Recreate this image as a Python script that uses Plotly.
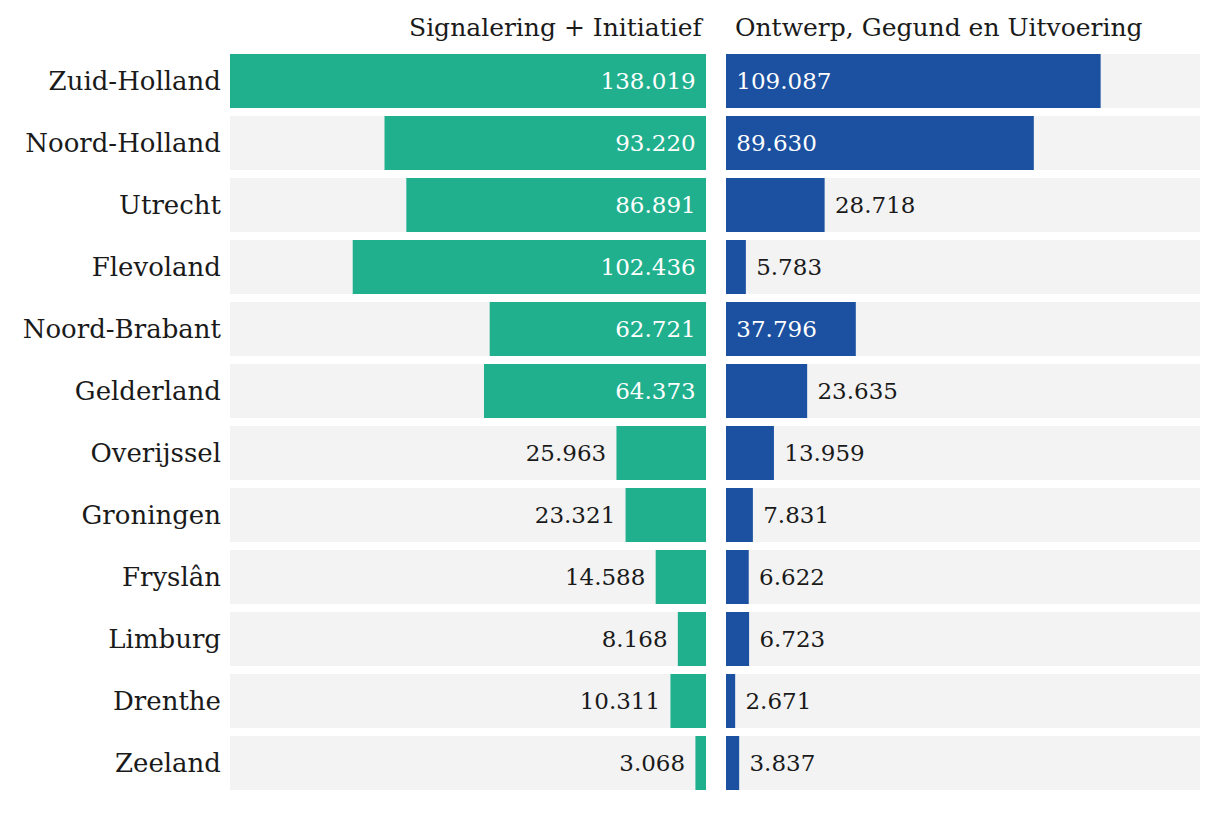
import plotly.graph_objects as go

provinces = ["Zuid-Holland", "Noord-Holland", "Utrecht", "Flevoland", "Noord-Brabant",
             "Gelderland", "Overijssel", "Groningen", "Fryslân", "Limburg", "Drenthe", "Zeeland"]
signalering = [138019, 93220, 86891, 102436, 62721, 64373, 25963, 23321, 14588, 8168, 10311, 3068]
ontwerp = [109087, 89630, 28718, 5783, 37796, 23635, 13959, 7831, 6622, 6723, 2671, 3837]
title_left = "Signalering + Initiatief"
title_right = "Ontwerp, Gegund en Uitvoering"

GREEN = "#20b08e"
BLUE = "#1b51a0"
GREY = "#f3f3f3"
DARK = "#1a1a1a"
FONT = "DejaVu Serif"
FS_TICK = 26
FS_TITLE = 25
FS_NUM = 23
OFF = 8  # page body margin
W, H = 1220 - 2 * OFF, 840 - 2 * OFF

xmax = max(max(signalering), max(ontwerp))
NB = "\u00a0"


def px(p):
    return (p - OFF) / W


def py(p):
    return 1 - (p - OFF) / H


def fmt(v):
    return f"{v:,}".replace(",", ".")


def positions(vals):
    return ["inside" if v > 30000 else "outside" for v in vals]


fig = go.Figure()

# grey background bands
for xa in ["x", "x2"]:
    fig.add_trace(go.Bar(y=provinces, x=[xmax] * len(provinces), orientation="h",
                         marker=dict(color=GREY, line=dict(width=0)), xaxis=xa, yaxis="y",
                         hoverinfo="skip", showlegend=False))

fig.add_trace(go.Bar(
    y=provinces, x=signalering, orientation="h", xaxis="x", yaxis="y",
    marker=dict(color=GREEN, line=dict(width=0)),
    text=[fmt(v) + NB for v in signalering],
    textposition=positions(signalering), insidetextanchor="start",
    insidetextfont=dict(color="white", size=FS_NUM, family=FONT),
    outsidetextfont=dict(color=DARK, size=FS_NUM, family=FONT),
    cliponaxis=False, showlegend=False))

fig.add_trace(go.Bar(
    y=provinces, x=ontwerp, orientation="h", xaxis="x2", yaxis="y",
    marker=dict(color=BLUE, line=dict(width=0)),
    text=[NB + fmt(v) for v in ontwerp],
    textposition=positions(ontwerp), insidetextanchor="start",
    insidetextfont=dict(color="white", size=FS_NUM, family=FONT),
    outsidetextfont=dict(color=DARK, size=FS_NUM, family=FONT),
    cliponaxis=False, showlegend=False))

fig.update_layout(
    width=W, height=H,
    margin=dict(l=0, r=0, t=0, b=0),
    paper_bgcolor="white", plot_bgcolor="white",
    barmode="overlay", bargap=0.129,
    font=dict(family=FONT, size=FS_TICK, color=DARK),
    xaxis=dict(domain=[px(230), px(706)], range=[xmax, 0], visible=False, fixedrange=True),
    xaxis2=dict(domain=[px(726), px(1200)], range=[0, xmax], visible=False, fixedrange=True),
    yaxis=dict(domain=[py(794), py(50)], anchor="x", autorange="reversed",
               showgrid=False, zeroline=False, showline=False, ticks="",
               ticklabelstandoff=8, tickfont=dict(family=FONT, size=FS_TICK, color=DARK)),
    annotations=[
        dict(text=title_left, xref="paper", yref="paper", x=px(706), y=py(27),
             xanchor="right", yanchor="middle", showarrow=False,
             font=dict(family=FONT, size=FS_TITLE, color=DARK)),
        dict(text=title_right, xref="paper", yref="paper", x=px(733), y=py(27),
             xanchor="left", yanchor="middle", showarrow=False,
             font=dict(family=FONT, size=FS_TITLE, color=DARK)),
    ],
)

fig.write_html("out.html")
